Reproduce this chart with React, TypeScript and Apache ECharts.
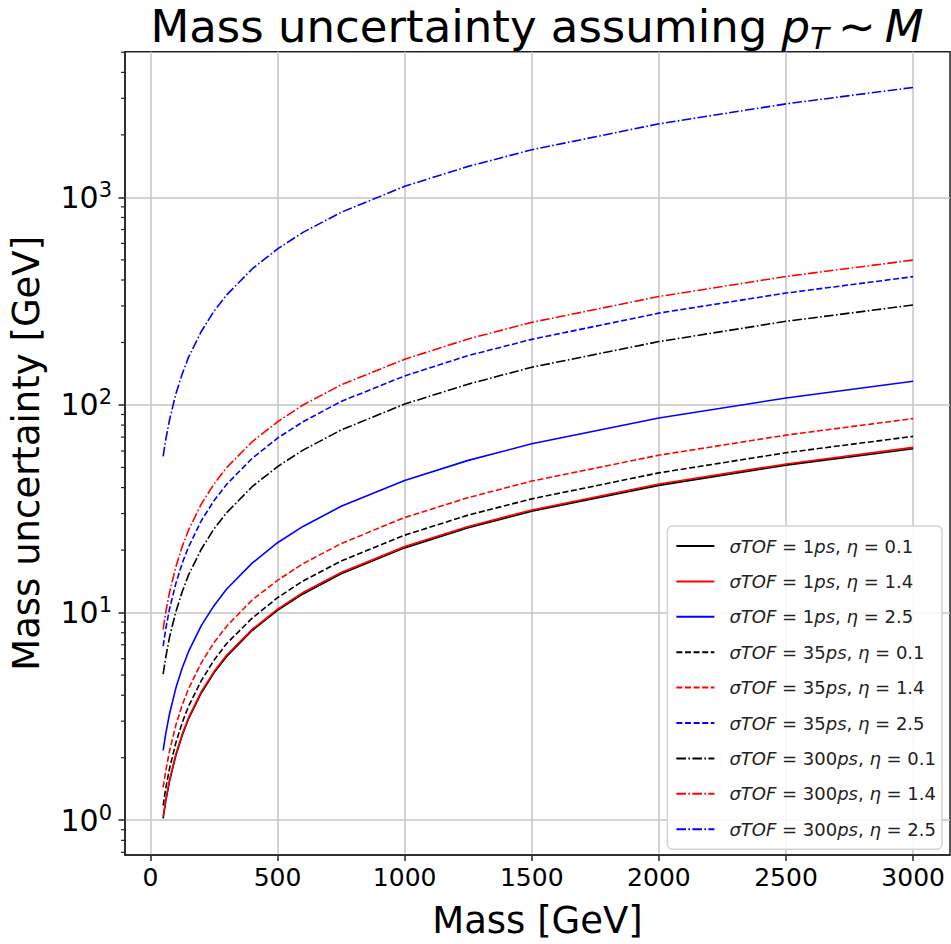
import React, { useEffect, useRef } from "react";
import * as echarts from "echarts";

// Mass [GeV] sample points
const masses = [50, 60, 75, 100, 125, 150, 200, 250, 300, 400, 500, 600, 750, 1000, 1250, 1500, 2000, 2500, 3000];

// Mass uncertainty [GeV]
const tof1Eta01 = [1.02, 1.23, 1.54, 2.05, 2.56, 3.08, 4.1, 5.13, 6.15, 8.2, 10.25, 12.3, 15.4, 20.5, 25.6, 30.8, 41, 51.3, 61.5];
const tof1Eta14 = [1.04, 1.25, 1.56, 2.08, 2.6, 3.12, 4.16, 5.2, 6.25, 8.3, 10.4, 12.5, 15.6, 20.8, 26, 31.2, 41.6, 52, 62.5];
const tof1Eta25 = [2.17, 2.6, 3.25, 4.33, 5.41, 6.5, 8.66, 10.8, 13, 17.3, 21.7, 26, 32.5, 43.3, 54.1, 65, 86.6, 108, 130];
const tof35Eta01 = [1.18, 1.42, 1.77, 2.36, 2.95, 3.54, 4.7, 5.9, 7.1, 9.4, 11.8, 14.2, 17.7, 23.6, 29.5, 35.3, 47.1, 58.9, 70.6];
const tof35Eta14 = [1.44, 1.72, 2.15, 2.87, 3.59, 4.3, 5.73, 7.17, 8.6, 11.5, 14.3, 17.2, 21.5, 28.7, 35.8, 43, 57.3, 71.6, 86];
const tof35Eta25 = [6.9, 8.3, 10.4, 13.8, 17.3, 20.7, 27.7, 34.6, 41.5, 55.3, 69.2, 83, 104, 138, 173, 207, 277, 346, 415];
const tof300Eta01 = [5.05, 6.06, 7.6, 10.1, 12.6, 15.2, 20.2, 25.3, 30.3, 40.4, 50.5, 60.6, 75.8, 101, 126, 152, 202, 253, 303];
const tof300Eta14 = [8.3, 10, 12.5, 16.6, 20.8, 25, 33.3, 41.6, 50, 66.5, 83, 100, 125, 166, 208, 250, 333, 416, 499];
const tof300Eta25 = [56.5, 67.8, 84.6, 113, 141, 170, 226, 283, 339, 452, 565, 678, 847, 1130, 1410, 1695, 2260, 2820, 3385];

// Axis ticks
const xTicks = [0, 500, 1000, 1500, 2000, 2500, 3000];
const yTicks = [1, 10, 100, 1000];
const yMinorTicks = [
  0.7, 0.8, 0.9,
  2, 3, 4, 5, 6, 7, 8, 9,
  20, 30, 40, 50, 60, 70, 80, 90,
  200, 300, 400, 500, 600, 700, 800, 900,
  2000, 3000, 4000, 5000,
];

const X_MIN = -100;
const X_MAX = 3145;
const Y_MIN = 0.68;
const Y_MAX = 5030;

const SOLID = "solid";
const DASHED = [6, 2.6];
const DASHDOT = [9.6, 2.4, 1.6, 2.4];

const seriesDefs = [
  { tof: "1", eta: "0.1", color: "#000000", dash: SOLID, values: tof1Eta01 },
  { tof: "1", eta: "1.4", color: "#ff0000", dash: SOLID, values: tof1Eta14 },
  { tof: "1", eta: "2.5", color: "#0000ff", dash: SOLID, values: tof1Eta25 },
  { tof: "35", eta: "0.1", color: "#000000", dash: DASHED, values: tof35Eta01 },
  { tof: "35", eta: "1.4", color: "#ff0000", dash: DASHED, values: tof35Eta14 },
  { tof: "35", eta: "2.5", color: "#0000ff", dash: DASHED, values: tof35Eta25 },
  { tof: "300", eta: "0.1", color: "#000000", dash: DASHDOT, values: tof300Eta01 },
  { tof: "300", eta: "1.4", color: "#ff0000", dash: DASHDOT, values: tof300Eta14 },
  { tof: "300", eta: "2.5", color: "#0000ff", dash: DASHDOT, values: tof300Eta25 },
].map((d) => ({ ...d, name: `σTOF=${d.tof}ps, η=${d.eta}` }));

const FONT = "'DejaVu Sans', sans-serif";

export default function App() {
  const ref = useRef<HTMLDivElement>(null);

  useEffect(() => {
    if (!ref.current) return;
    const chart = echarts.init(ref.current, undefined, { renderer: "svg" });

    const lineSeries = seriesDefs.map((d) => ({
      type: "line",
      name: d.name,
      data: masses.map((m, i) => [m, d.values[i]]),
      symbol: "none",
      showSymbol: false,
      smooth: false,
      lineStyle: { color: d.color, width: 1.6, type: d.dash },
      itemStyle: { color: d.color },
      z: 3,
    }));

    const minorTickSeries = {
      type: "custom",
      silent: true,
      clip: false,
      z: 6,
      data: yMinorTicks.map((v) => [X_MIN, v]),
      encode: { x: 0, y: 1 },
      renderItem: (_params: any, api: any) => {
        const p = api.coord([api.value(0), api.value(1)]);
        return {
          type: "line",
          shape: { x1: p[0] - 4, y1: p[1], x2: p[0], y2: p[1] },
          style: { stroke: "#222", lineWidth: 1.2 },
        };
      },
    };

    const option: any = {
      animation: false,
      backgroundColor: "#ffffff",
      grid: {
        left: 122.7,
        top: 51.7,
        right: 1,
        bottom: 85.7,
        show: true,
        borderColor: "#222",
        borderWidth: 1.5,
        backgroundColor: "transparent",
      },
      graphic: [
        {
          type: "text",
          x: 537,
          y: 26,
          z: 10,
          style: {
            text: "{n|Mass uncertainty assuming }{m|p}{sub|T}{r|\u2009∼\u2009}{m|M}",
            textAlign: "center",
            textVerticalAlign: "middle",
            fill: "#000",
            rich: {
              n: { fontFamily: FONT, fontSize: 45, lineHeight: 54, fill: "#000" },
              m: { fontFamily: FONT, fontStyle: "italic", fontSize: 45, lineHeight: 54, fill: "#000" },
              r: { fontFamily: FONT, fontSize: 45, lineHeight: 54, fill: "#000" },
              sub: { fontFamily: FONT, fontStyle: "italic", fontSize: 31, verticalAlign: "bottom", fill: "#000" },
            },
          },
        },
      ],
      legend: {
        orient: "vertical",
        right: 9,
        top: 526,
        data: seriesDefs.map((d) => d.name),
        itemWidth: 38,
        itemHeight: 14,
        itemGap: 13.4,
        padding: [9, 6, 9, 8],
        borderColor: "#d4d4d4",
        borderWidth: 1.5,
        borderRadius: 5,
        backgroundColor: "rgba(255,255,255,0.85)",
        selectedMode: false,
        itemStyle: { color: "rgba(0,0,0,0)", borderColor: "rgba(0,0,0,0)", borderWidth: 0 },
        formatter: (name: string) => {
          const d = seriesDefs.find((s) => s.name === name)!;
          return `{i|σTOF} = ${d.tof}{i|ps}, {i|η} = ${d.eta}`;
        },
        textStyle: {
          fontFamily: FONT,
          fontSize: 18,
          lineHeight: 22,
          color: "#222",
          padding: [0, 0, 0, 10],
          rich: {
            i: { fontFamily: FONT, fontStyle: "italic", fontSize: 18, lineHeight: 22, color: "#222" },
          },
        },
      },
      xAxis: {
        type: "value",
        min: X_MIN,
        max: X_MAX,
        name: "Mass [GeV]",
        nameLocation: "middle",
        nameGap: 47,
        nameTextStyle: { fontFamily: FONT, fontSize: 37, color: "#000" },
        axisLine: { show: true, onZero: false, lineStyle: { color: "#222", width: 1.5 } },
        axisTick: { show: true, length: 6, customValues: xTicks, lineStyle: { color: "#222", width: 1.5 } },
        axisLabel: {
          customValues: xTicks,
          formatter: (v: number) => String(v),
          fontFamily: FONT,
          fontSize: 25,
          color: "#000",
          margin: 10,
        },
        splitLine: { show: true, lineStyle: { color: "#c4c4c4", width: 1.5 } },
      },
      yAxis: {
        type: "log",
        logBase: 10,
        min: Y_MIN,
        max: Y_MAX,
        name: "Mass uncertainty [GeV]",
        nameLocation: "middle",
        nameGap: 80,
        nameTextStyle: { fontFamily: FONT, fontSize: 37, color: "#000" },
        axisLine: { show: true, onZero: false, lineStyle: { color: "#222", width: 1.5 } },
        axisTick: { show: true, length: 6.5, customValues: yTicks, lineStyle: { color: "#222", width: 1.5 } },
        axisLabel: {
          customValues: yTicks,
          margin: 13,
          formatter: (v: number) => {
            const e = Math.log10(v);
            if (Math.abs(e - Math.round(e)) > 1e-6) return "";
            return `{b|10}{s|${Math.round(e)}}`;
          },
          rich: {
            b: { fontFamily: FONT, fontSize: 30, lineHeight: 36, color: "#000" },
            s: { fontFamily: FONT, fontSize: 21, verticalAlign: "top", color: "#000" },
          },
        },
        splitLine: { show: true, lineStyle: { color: "#c4c4c4", width: 1.5 } },
        minorTick: { show: false },
      },
      series: [...lineSeries, minorTickSeries],
    };

    chart.setOption(option);
    return () => chart.dispose();
  }, []);

  return (
    <div
      ref={ref}
      style={{ position: "fixed", left: 0, top: 0, width: 951, height: 944, background: "#fff" }}
    />
  );
}
